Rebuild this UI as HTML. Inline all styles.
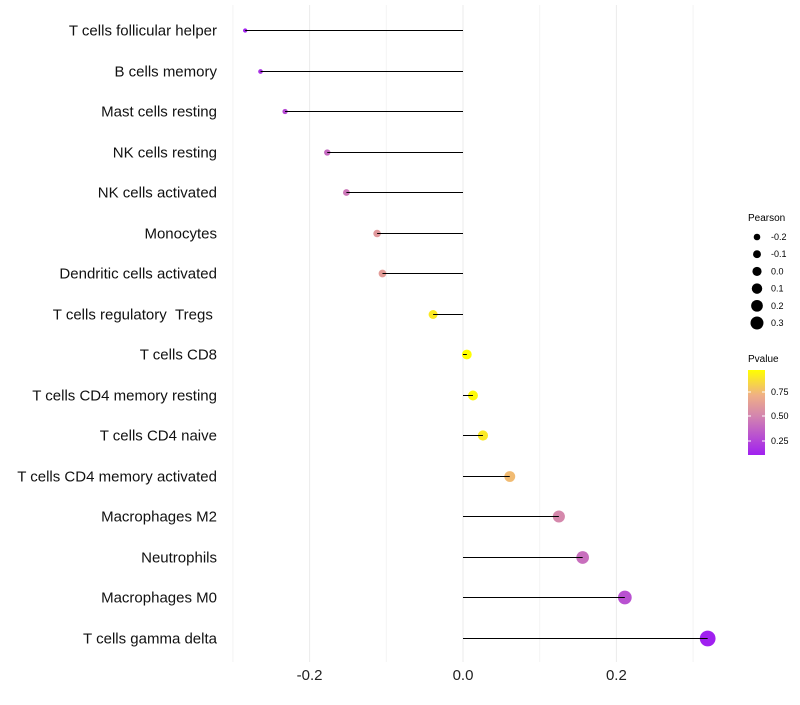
<!DOCTYPE html>
<html><head><meta charset="utf-8"><style>
body{margin:0;background:#fff;font-family:"Liberation Sans",sans-serif}
</style></head><body>
<svg id="c" width="800" height="700" xmlns="http://www.w3.org/2000/svg">
<defs><linearGradient id="pg" x1="0" y1="1" x2="0" y2="0">
<stop offset="0" stop-color="#A020F0"/><stop offset="0.45" stop-color="#D283B0"/><stop offset="0.7" stop-color="#EFAF86"/><stop offset="1" stop-color="#FFFF00"/></linearGradient></defs>
<g id="grid"></g><g id="dots"></g><g id="marks"></g><g id="labels"></g>
<g font-size="9" fill="#000">
<text x="748" y="221" font-size="10">Pearson</text>
<g id="sizeleg"></g>
<text x="748" y="362" font-size="10">Pvalue</text>
<rect x="748" y="370" width="17" height="85" fill="url(#pg)"/>
<g stroke="#fff" stroke-width="1"><line x1="748" y1="392" x2="751" y2="392"/><line x1="762" y1="392" x2="765" y2="392"/><line x1="748" y1="416" x2="751" y2="416"/><line x1="762" y1="416" x2="765" y2="416"/><line x1="748" y1="441" x2="751" y2="441"/><line x1="762" y1="441" x2="765" y2="441"/></g>
<text x="771" y="395">0.75</text><text x="771" y="419">0.50</text><text x="771" y="444">0.25</text>
</g>
</svg>
<script>
const categories=["T cells follicular helper","B cells memory","Mast cells resting","NK cells resting","NK cells activated","Monocytes","Dendritic cells activated","T cells regulatory\u00a0\u00a0Tregs\u00a0","T cells CD8","T cells CD4 memory resting","T cells CD4 naive","T cells CD4 memory activated","Macrophages M2","Neutrophils","Macrophages M0","T cells gamma delta"];
const pearson=[-0.284,-0.264,-0.232,-0.177,-0.152,-0.112,-0.105,-0.039,0.005,0.013,0.026,0.061,0.125,0.156,0.211,0.319];
const pvalue=[0.12,0.18,0.28,0.4,0.45,0.6,0.62,0.9,0.98,0.95,0.9,0.75,0.52,0.42,0.3,0.1];
const xTicks=[-0.2,0,0.2];
const xTickLabels=["-0.2","0.0","0.2"];
const sizeLegend=[-0.2,-0.1,0.0,0.1,0.2,0.3];
const NS="http://www.w3.org/2000/svg";
const x=v=>463+v*767;
const y=i=>Math.round(30+i*40.5)+0.5;
const r=v=>2+(v+0.3)*9.5;
function col(p){const st=[[0,[160,32,240]],[0.45,[210,131,176]],[0.7,[239,175,134]],[1,[255,255,0]]];
 const t=(p-0.11)/(0.97-0.11);const tt=Math.max(0,Math.min(1,t));
 for(let k=1;k<st.length;k++){if(tt<=st[k][0]){const a=st[k-1],b=st[k],f=(tt-a[0])/(b[0]-a[0]);return "rgb("+a[1].map((c,j)=>Math.round(c+(b[1][j]-c)*f)).join(",")+")";}}
 return "rgb(255,255,0)";}
function mk(t,a,p){const e=document.createElementNS(NS,t);for(const k in a)e.setAttribute(k,a[k]);p.appendChild(e);return e;}
const grid=document.getElementById("grid"),marks=document.getElementById("marks"),dots=document.getElementById("dots"),labels=document.getElementById("labels");
[-0.3,-0.1,0.1,0.3].forEach(v=>{const l=mk("line",{x1:x(v),x2:x(v),y1:5,y2:662,stroke:"#f4f4f4","stroke-width":1},grid);

});
xTicks.forEach((v,i)=>{const l=mk("line",{x1:x(v),x2:x(v),y1:5,y2:662,stroke:"#ebebeb","stroke-width":1},grid);


const t=mk("text",{x:x(v),y:680,"text-anchor":"middle","font-size":15,fill:"#222"},labels);t.textContent=xTickLabels[i];

});
categories.forEach((c,i)=>{
const t=mk("text",{x:217,y:y(i)+5,"text-anchor":"end","font-size":15,fill:"#111"},labels);t.textContent=c;


const d=mk("circle",{cx:x(pearson[i]),cy:y(i),r:r(pearson[i]),fill:col(pvalue[i])},dots);


const s=mk("line",{x1:x(0),x2:x(pearson[i]),y1:y(i),y2:y(i),stroke:"#000","stroke-width":1},marks);

});
const sl=document.getElementById("sizeleg");
sizeLegend.forEach((v,i)=>{const cy=237+i*17.2;
const d=mk("circle",{cx:757,cy:cy,r:3.3+(v+0.2)*6.4,fill:"#000"},sl);


const t=mk("text",{x:771,y:cy+3,"font-size":9},sl);t.textContent=v.toFixed(1);

});
</script>
</body></html>
